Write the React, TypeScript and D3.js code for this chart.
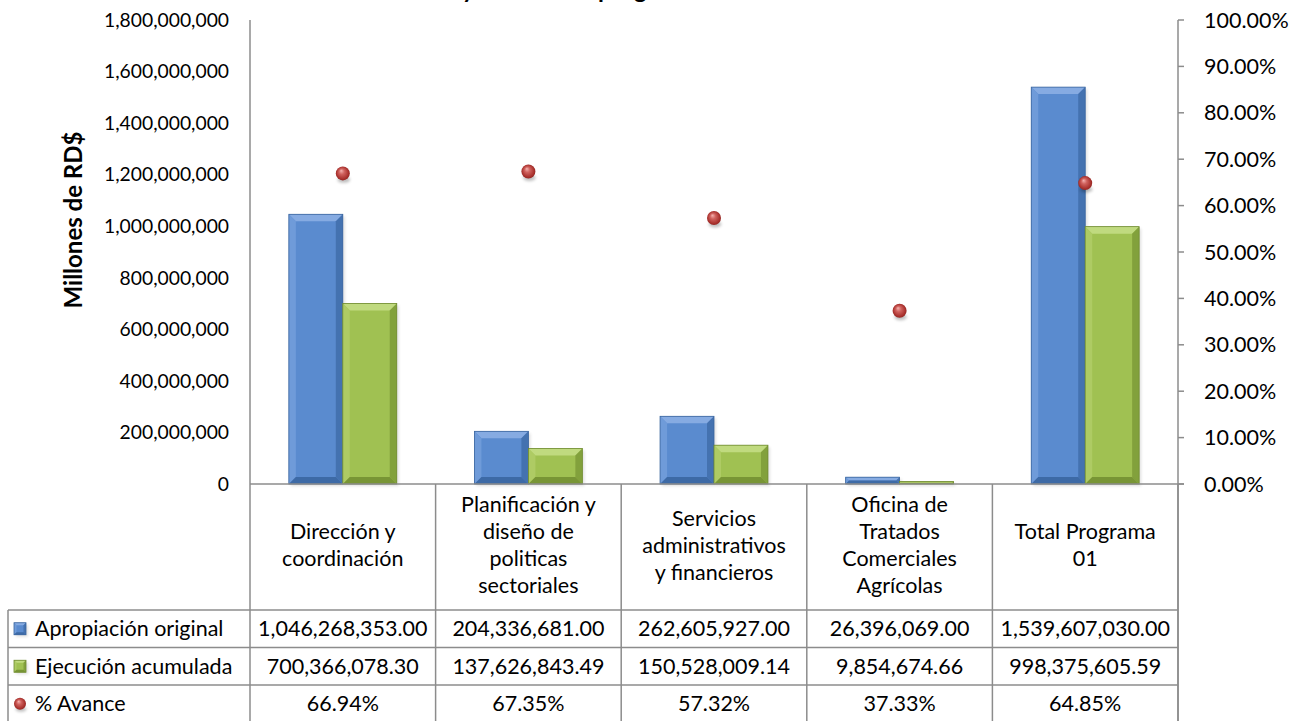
import React from "react";
import * as d3 from "d3";

// categories (multi-line labels as shown in the data table header)
const categories = [
  ["Dirección y", "coordinación"],
  ["Planificación y", "diseño de", "politicas", "sectoriales"],
  ["Servicios", "administrativos", "y financieros"],
  ["Oficina de", "Tratados", "Comerciales", "Agrícolas"],
  ["Total Programa", "01"],
];
const apropiacion = [1046268353.0, 204336681.0, 262605927.0, 26396069.0, 1539607030.0];
const ejecucion = [700366078.3, 137626843.49, 150528009.14, 9854674.66, 998375605.59];
const avance = [0.6694, 0.6735, 0.5732, 0.3733, 0.6485];

const leftTicks = [0, 200e6, 400e6, 600e6, 800e6, 1000e6, 1200e6, 1400e6, 1600e6, 1800e6];
const rightTicks = [0, 0.1, 0.2, 0.3, 0.4, 0.5, 0.6, 0.7, 0.8, 0.9, 1];

const seriesNames = ["Apropiación original", "Ejecución acumulada", "% Avance"];

const W = 1310;
const H = 721;
const FONT = "Lato, 'Open Sans', sans-serif";

const plotLeft = 250;
const plotRight = 1178;
const plotTop = 20;
const plotBottom = 484;
const headerBottom = 610;
const rowH = 37.5;
const tableLeft = 8;

const BLUE = { main: "#5a8bcf", light: "#86abe2", side: "#6f9bd9", dark: "#3d6aa6", edge: "#3a659e" };
const GREEN = { main: "#a0c152", light: "#c0da7f", side: "#aecb64", dark: "#789535", edge: "#6f8a30" };

function Bevel({ x, y, w, h, c, b = 7 }: { x: number; y: number; w: number; h: number; c: typeof BLUE; b?: number }) {
  const bb = Math.max(0.5, Math.min(b, h / 2, w / 2));
  const pts = (arr: number[][]) => arr.map((p) => p.join(",")).join(" ");
  return (
    <g>
      <rect x={x + 2} y={y + 2} width={w} height={h} fill="#000" opacity={0.12} filter="url(#blur2)" />
      <rect x={x} y={y} width={w} height={h} fill={c.main} />
      <polygon points={pts([[x, y], [x + w, y], [x + w - bb, y + bb], [x + bb, y + bb]])} fill={c.light} />
      <polygon points={pts([[x, y], [x + bb, y + bb], [x + bb, y + h - bb], [x, y + h]])} fill={c.side} />
      <polygon points={pts([[x + w, y], [x + w, y + h], [x + w - bb, y + h - bb], [x + w - bb, y + bb]])} fill={c.dark} opacity={0.75} />
      <polygon points={pts([[x, y + h], [x + bb, y + h - bb], [x + w - bb, y + h - bb], [x + w, y + h]])} fill={c.dark} />
      <rect x={x} y={y} width={w} height={h} fill="none" stroke={c.edge} strokeWidth={0.8} />
    </g>
  );
}

function Ball({ cx, cy, r = 7 }: { cx: number; cy: number; r?: number }) {
  return (
    <g>
      <ellipse cx={cx + 1} cy={cy + r * 0.9} rx={r * 0.9} ry={r * 0.45} fill="#000" opacity={0.25} filter="url(#blur2)" />
      <circle cx={cx} cy={cy} r={r} fill="url(#ballGrad)" />
    </g>
  );
}

export default function App() {
  const x = d3
    .scaleBand<number>()
    .domain(d3.range(categories.length))
    .range([plotLeft, plotRight]);
  const inner = d3.scaleBand<number>().domain([0, 1]).range([0, x.bandwidth()]).paddingOuter(0.72).paddingInner(0);
  const y = d3.scaleLinear().domain([0, 1800e6]).range([plotBottom, plotTop]);
  const y2 = d3.scaleLinear().domain([0, 1]).range([plotBottom, plotTop]);
  const fmtL = d3.format(",");
  const fmtR = d3.format(".2%");
  const fmtV = d3.format(",.2f");

  const series = [apropiacion, ejecucion];
  const colors = [BLUE, GREEN];
  const gridColor = "#8c8c8c";
  const lineH = 27;

  const rowValues = [apropiacion.map(fmtV), ejecucion.map(fmtV), avance.map(fmtR)];

  return (
    <svg width={W} height={H} style={{ position: "absolute", left: 0, top: 0, background: "#fff" }} fontFamily={FONT}>
      <defs>
        <filter id="blur2" x="-50%" y="-50%" width="200%" height="200%">
          <feGaussianBlur stdDeviation="1.5" />
        </filter>
        <radialGradient id="ballGrad" cx="50%" cy="50%" r="55%" fx="38%" fy="30%">
          <stop offset="0%" stopColor="#f5b3b0" />
          <stop offset="35%" stopColor="#d0625e" />
          <stop offset="80%" stopColor="#a8302c" />
          <stop offset="100%" stopColor="#8a2320" />
        </radialGradient>
      </defs>

      {/* title, mostly clipped by the top edge */}
      <text x={462} y={-2} fontSize={24} fontWeight="bold" textAnchor="end" fill="#000">
        Monto total
      </text>
      <text x={462} y={-2} fontSize={24} fontWeight="bold" fill="#000">
        y avance del programa
      </text>

      {/* left axis */}
      {leftTicks.map((t) => (
        <text key={t} x={plotLeft - 21} y={y(t)} dy="0.35em" textAnchor="end" fontSize={19.3} fill="#000">
          {fmtL(t)}
        </text>
      ))}
      <text
        transform={`translate(${74},${220}) rotate(-90)`}
        textAnchor="middle"
        dy="0.35em"
        fontSize={24}
        fontWeight="bold"
      >
        Millones de RD$
      </text>

      {/* right axis */}
      <line x1={plotRight} x2={plotRight} y1={plotTop} y2={headerBottom + rowH * 3 + 2} stroke={gridColor} strokeWidth={1.5} />
      {rightTicks.map((t) => (
        <g key={t}>
          <line x1={plotRight} x2={plotRight + 6} y1={y2(t)} y2={y2(t)} stroke={gridColor} strokeWidth={1.5} />
          <text x={plotRight + 26} y={y2(t)} dy="0.35em" fontSize={21.5} fill="#000">
            {fmtR(t)}
          </text>
        </g>
      ))}

      {/* bars */}
      {categories.map((_, i) =>
        series.map((s, k) => {
          const bx = (x(i) as number) + (inner(k) as number);
          const top = y(s[i]);
          return <Bevel key={`${i}-${k}`} x={bx} y={top} w={inner.bandwidth()} h={plotBottom - top} c={colors[k]} />;
        })
      )}

      {/* % avance markers */}
      {avance.map((v, i) => (
        <Ball key={i} cx={(x(i) as number) + x.bandwidth() / 2} cy={y2(v)} />
      ))}

      {/* data table grid */}
      <line x1={plotLeft} x2={plotRight + 6} y1={plotBottom} y2={plotBottom} stroke={gridColor} strokeWidth={1.5} />
      <line x1={plotLeft} x2={plotLeft} y1={plotTop} y2={H} stroke={gridColor} strokeWidth={1.5} />
      {categories.map((_, i) => (
        <line
          key={i}
          x1={(x(i) as number) + x.bandwidth()}
          x2={(x(i) as number) + x.bandwidth()}
          y1={plotBottom}
          y2={H}
          stroke={gridColor}
          strokeWidth={1.5}
        />
      ))}
      {[0, 1, 2].map((r) => (
        <line
          key={r}
          x1={tableLeft}
          x2={plotRight}
          y1={headerBottom + r * rowH}
          y2={headerBottom + r * rowH}
          stroke={gridColor}
          strokeWidth={1.5}
        />
      ))}
      <line x1={tableLeft} x2={tableLeft} y1={headerBottom} y2={H} stroke={gridColor} strokeWidth={1.5} />

      {/* header: category names */}
      {categories.map((lines, i) => {
        const cx = (x(i) as number) + x.bandwidth() / 2;
        const mid = (plotBottom + headerBottom) / 2 - 2;
        return (
          <text key={i} x={cx} textAnchor="middle" fontSize={21.5} fill="#000">
            {lines.map((l, j) => (
              <tspan key={j} x={cx} y={mid + (j - (lines.length - 1) / 2) * lineH} dy="0.35em">
                {l}
              </tspan>
            ))}
          </text>
        );
      })}

      {/* rows */}
      {rowValues.map((vals, r) => {
        const cy = headerBottom + r * rowH + rowH / 2;
        return (
          <g key={r}>
            {r < 2 ? (
              <Bevel x={14} y={cy - 6} w={12} h={12} c={colors[r]} b={2.5} />
            ) : (
              <Ball cx={20} cy={cy} r={6} />
            )}
            <text x={35} y={cy} dy="0.35em" fontSize={21.5} fill="#000">
              {seriesNames[r]}
            </text>
            {vals.map((v, i) => (
              <text
                key={i}
                x={(x(i) as number) + x.bandwidth() / 2}
                y={cy}
                dy="0.35em"
                textAnchor="middle"
                fontSize={21.5}
                fill="#000"
              >
                {v}
              </text>
            ))}
          </g>
        );
      })}
    </svg>
  );
}
